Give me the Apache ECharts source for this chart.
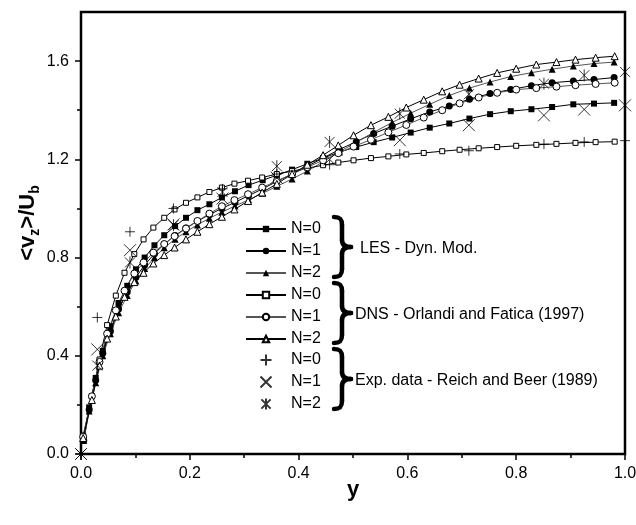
<!DOCTYPE html>
<html><head><meta charset="utf-8">
<script src="https://cdn.jsdelivr.net/npm/echarts@6/dist/echarts.min.js"></script>
<style>html,body{margin:0;padding:0;background:#fff}#c{width:636px;height:525px}</style>
</head><body><div id="c"></div>
<script>
// ---- data ----
const lesX = [0.005,0.015,0.027,0.040,0.054,0.069,0.085,0.101,0.117,0.135,0.153,0.173,0.193,0.214,0.236,0.259,0.283,0.308,0.334,0.360,0.388,0.416,0.445,0.475,0.506,0.538,0.572,0.606,0.641,0.677,0.714,0.752,0.790,0.828,0.866,0.905,0.943,0.980];
const les0 = [0.06,0.19,0.31,0.42,0.52,0.615,0.685,0.752,0.80,0.85,0.891,0.928,0.962,0.993,1.017,1.045,1.07,1.095,1.115,1.135,1.158,1.182,1.205,1.23,1.25,1.27,1.289,1.309,1.329,1.346,1.366,1.384,1.396,1.404,1.413,1.424,1.427,1.430];
const les1 = [0.055,0.18,0.30,0.41,0.50,0.59,0.66,0.72,0.77,0.815,0.855,0.89,0.92,0.948,0.975,1.0,1.025,1.052,1.08,1.11,1.14,1.172,1.205,1.24,1.272,1.305,1.335,1.365,1.393,1.417,1.445,1.468,1.484,1.50,1.512,1.519,1.525,1.533];
const les2 = [0.055,0.175,0.29,0.40,0.49,0.575,0.645,0.705,0.755,0.80,0.84,0.875,0.905,0.933,0.96,0.985,1.01,1.035,1.062,1.09,1.12,1.152,1.19,1.23,1.27,1.31,1.35,1.388,1.424,1.46,1.49,1.515,1.537,1.553,1.567,1.58,1.59,1.596];
const dnsX = [0.004,0.020,0.034,0.048,0.064,0.080,0.098,0.115,0.133,0.153,0.172,0.193,0.214,0.236,0.259,0.282,0.307,0.333,0.360,0.388,0.416,0.445,0.473,0.501,0.533,0.565,0.598,0.630,0.664,0.696,0.731,0.765,0.800,0.837,0.874,0.909,0.946,0.981];
const dns0 = [0.075,0.235,0.385,0.525,0.645,0.738,0.814,0.874,0.922,0.962,0.996,1.023,1.045,1.067,1.085,1.101,1.113,1.126,1.14,1.152,1.164,1.176,1.187,1.196,1.205,1.212,1.22,1.226,1.233,1.239,1.245,1.25,1.255,1.259,1.263,1.267,1.27,1.272];
const dns1 = [0.07,0.235,0.375,0.49,0.585,0.665,0.735,0.78,0.82,0.855,0.887,0.918,0.949,0.979,1.009,1.034,1.058,1.085,1.112,1.14,1.168,1.196,1.225,1.252,1.28,1.31,1.34,1.37,1.40,1.428,1.452,1.471,1.484,1.49,1.496,1.502,1.507,1.512];
const dns2 = [0.065,0.22,0.36,0.47,0.56,0.64,0.70,0.738,0.776,0.81,0.841,0.874,0.905,0.936,0.966,0.996,1.03,1.065,1.10,1.14,1.178,1.217,1.257,1.298,1.339,1.373,1.411,1.443,1.477,1.504,1.529,1.552,1.569,1.586,1.596,1.606,1.614,1.62];
const expX = [0, 0.03, 0.09, 0.17, 0.26, 0.36, 0.457, 0.586, 0.713, 0.851, 0.925, 1.0];
const exp0 = [0, 0.556, 0.905, 1.0, 1.08, 1.14, 1.178, 1.222, 1.235, 1.262, 1.271, 1.276];
const exp1 = [0, 0.426, 0.83, 0.935, 1.04, 1.125, 1.2, 1.278, 1.339, 1.379, 1.403, 1.42];
const exp2 = [0, 0.36, 0.78, 0.932, 1.067, 1.172, 1.271, 1.386, 1.465, 1.508, 1.542, 1.556];
const xTicks = [0, 0.2, 0.4, 0.6, 0.8, 1.0];
const xMinor = [0.1, 0.3, 0.5, 0.7, 0.9];
const yTicks = [0, 0.4, 0.8, 1.2, 1.6];
const yMinor = [0.2, 0.6, 1.0, 1.4];
const groupLabels = ['LES - Dyn. Mod.', 'DNS - Orlandi and Fatica (1997)', 'Exp. data - Reich and Beer (1989)'];

// ---- chart ----
const FONT = '"Liberation Sans", Arial, sans-serif';
const pairs = (xs, ys) => xs.map((x, i) => [x, ys[i]]);
const chart = echarts.init(document.getElementById('c'), null, {renderer: 'canvas'});

function lineSeries(name, xs, ys, symbol, size, filled, lineColor) {
  return {
    type: 'line', name, data: pairs(xs, ys), symbol, symbolSize: size,
    showAllSymbol: true, animation: false,
    lineStyle: {color: lineColor, width: 1},
    itemStyle: filled ? {color: '#000', borderColor: '#000', borderWidth: 0}
                      : {color: '#fff', borderColor: '#000', borderWidth: 1},
    emphasis: {disabled: true}
  };
}
function expSeries(name, ys, path, size) {
  return {
    type: 'scatter', name, data: pairs(expX, ys), symbol: path, symbolSize: size,
    symbolKeepAspect: true, animation: false, z: 3,
    itemStyle: {color: 'none', borderColor: '#000', borderWidth: 1},
    emphasis: {disabled: true}
  };
}
const PLUS = 'path://M5,0L5,10M0,5L10,5';
const CROSS = 'path://M0,0L10,10M10,0L0,10';
const STAR = 'path://M0,0L10,10M10,0L0,10M5,-1L5,11';

const series = [
  lineSeries('N=0', lesX, les0, 'rect', 6, true, '#000'),
  lineSeries('N=1', lesX, les1, 'circle', 7, true, '#000'),
  lineSeries('N=2', lesX, les2, 'triangle', 7, true, '#555'),
  lineSeries('N=0 ', dnsX, dns0, 'rect', 5, false, '#000'),
  lineSeries('N=1 ', dnsX, dns1, 'circle', 7, false, '#555'),
  lineSeries('N=2 ', dnsX, dns2, 'triangle', 7, false, '#000'),
  expSeries('N=0  ', exp0, PLUS, 10),
  expSeries('N=1  ', exp1, CROSS, 12),
  expSeries('N=2  ', exp2, STAR, 12)
];

const braceY = [247, 313, 379];
const BS = {fill: 'none', stroke: '#000', lineWidth: 4.5, lineCap: 'round'};
const graphic = [];
braceY.forEach((cy, i) => {
  const t = cy - 30, b = cy + 30;
  graphic.push({type: 'bezierCurve', silent: true, style: BS,
    shape: {x1: 334, y1: t, cpx1: 340, cpy1: t, cpx2: 342, cpy2: t + 2, x2: 342, y2: t + 8}});
  graphic.push({type: 'line', silent: true, style: BS, shape: {x1: 342, y1: t + 8, x2: 342, y2: cy - 7}});
  graphic.push({type: 'bezierCurve', silent: true, style: BS,
    shape: {x1: 342, y1: cy - 7, cpx1: 342, cpy1: cy - 2, cpx2: 345, cpy2: cy, x2: 351, y2: cy}});
  graphic.push({type: 'bezierCurve', silent: true, style: BS,
    shape: {x1: 351, y1: cy, cpx1: 345, cpy1: cy, cpx2: 342, cpy2: cy + 2, x2: 342, y2: cy + 7}});
  graphic.push({type: 'line', silent: true, style: BS, shape: {x1: 342, y1: cy + 7, x2: 342, y2: b - 8}});
  graphic.push({type: 'bezierCurve', silent: true, style: BS,
    shape: {x1: 342, y1: b - 8, cpx1: 342, cpy1: b - 2, cpx2: 340, cpy2: b, x2: 334, y2: b}});
  graphic.push({type: 'text', x: i === 0 ? 360 : 355, y: cy + 2, silent: true,
    style: {text: groupLabels[i], font: '16px ' + FONT, fill: '#000', align: 'left', verticalAlign: 'middle'}});
});
graphic.push({type: 'text', x: 353, y: 490, silent: true,
  style: {text: 'y', font: 'bold 22px ' + FONT, fill: '#000', align: 'center', verticalAlign: 'middle'}});
graphic.push({type: 'text', x: 28, y: 223, rotation: Math.PI / 2, silent: true,
  style: {text: '<v{s|z}>/U{s|b}', font: 'bold 22px ' + FONT, fill: '#000', align: 'center', verticalAlign: 'middle', lineHeight: 28,
    rich: {s: {fontSize: 14, fontWeight: 'bold', fontFamily: FONT, lineHeight: 14, verticalAlign: 'bottom'}}}});

const option = {
  backgroundColor: '#fff',
  animation: false,
  grid: {left: 81, right: 11, top: 12, bottom: 71, show: true, borderColor: '#000', borderWidth: 2.5, containLabel: false, outerBoundsMode: 'none'},
  xAxis: [
    {type: 'value', min: 0, max: 1, position: 'bottom',
     axisLine: {lineStyle: {color: '#000', width: 2}},
     axisTick: {customValues: xTicks, length: 6, lineStyle: {color: '#000', width: 1.5}},
     axisLabel: {customValues: xTicks, fontSize: 16, fontFamily: FONT, color: '#000', margin: 12, formatter: v => v.toFixed(1)},
     splitLine: {show: false}},
    {type: 'value', min: 0, max: 1, position: 'bottom',
     axisLine: {show: false},
     axisTick: {customValues: xMinor, length: 4, lineStyle: {color: '#000', width: 1.5}},
     axisLabel: {show: false}, splitLine: {show: false}}
  ],
  yAxis: [
    {type: 'value', min: 0, max: 1.8, position: 'left',
     axisLine: {show: true, lineStyle: {color: '#000', width: 2}},
     axisTick: {show: true, customValues: yTicks, length: 6, lineStyle: {color: '#000', width: 1.5}},
     axisLabel: {customValues: yTicks, fontSize: 16, fontFamily: FONT, color: '#000', margin: 12, formatter: v => v.toFixed(1)},
     splitLine: {show: false}},
    {type: 'value', min: 0, max: 1.8, position: 'left',
     axisLine: {show: false},
     axisTick: {show: true, customValues: yMinor, length: 4, lineStyle: {color: '#000', width: 1.5}},
     axisLabel: {show: false}, splitLine: {show: false}}
  ],
  legend: [
    {orient: 'vertical', left: 245, top: 221, padding: 0, itemWidth: 40, itemHeight: 8, itemGap: 6,
     selectedMode: false, formatter: n => n.trim(),
     textStyle: {fontSize: 16, fontFamily: FONT, color: '#000'},
     data: ['N=0', 'N=1', 'N=2', 'N=0 ', 'N=1 ', 'N=2 ']},
    {orient: 'vertical', left: 258, top: 352, padding: 0, itemWidth: 40, itemHeight: 11, itemGap: 6,
     selectedMode: false, formatter: n => n.trim(),
     textStyle: {fontSize: 16, fontFamily: FONT, color: '#000'},
     data: ['N=0  ', 'N=1  ', 'N=2  ']}
  ],
  series,
  graphic
};
chart.setOption(option);
</script></body></html>
